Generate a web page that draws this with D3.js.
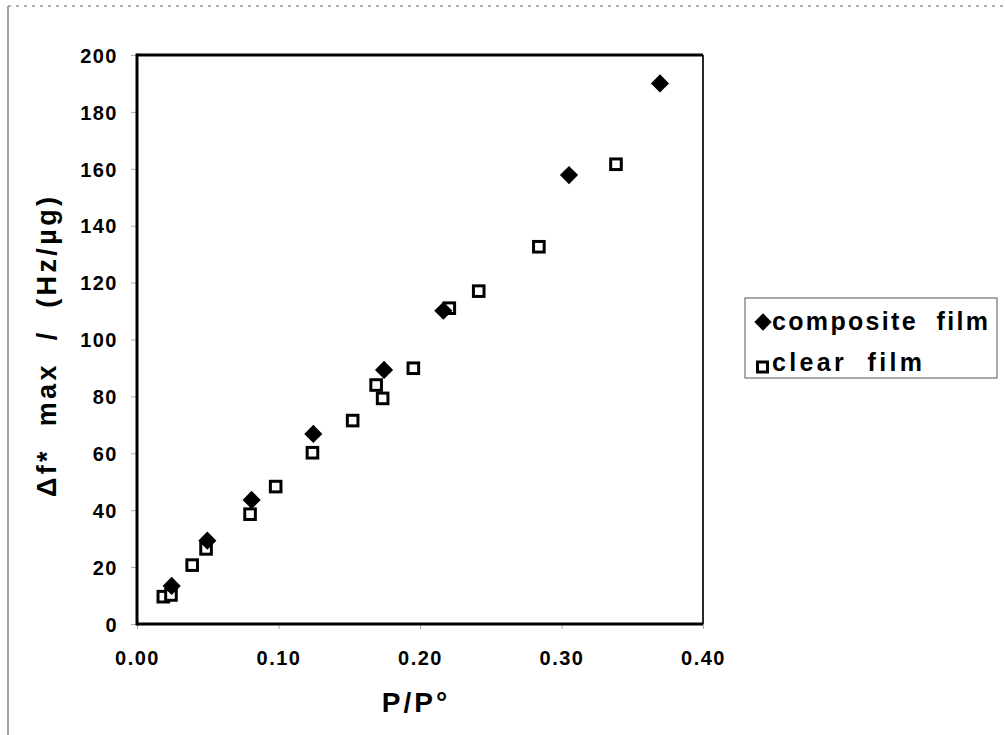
<!DOCTYPE html>
<html>
<head>
<meta charset="utf-8">
<script src="https://cdn.jsdelivr.net/npm/d3@7"></script>
<style>
  html, body { margin: 0; padding: 0; background: #fff; }
  svg { display: block; font-family: "Liberation Sans", Arial, Helvetica, sans-serif; }
</style>
</head>
<body>
<svg id="chart" width="1005" height="735"></svg>
<script>
// Relative pressure P/P° and normalised frequency shift for each film
const compositeX = [0.0245, 0.0497, 0.081, 0.1246, 0.1746, 0.2165, 0.3053, 0.3696];
const compositeY = [13.4, 29.3, 43.6, 66.8, 89.3, 110.1, 157.8, 190.0];

const clearX = [0.0186, 0.024, 0.039, 0.0488, 0.0799, 0.098, 0.124, 0.1524, 0.169, 0.1736, 0.1953, 0.2207, 0.2415, 0.284, 0.3385];
const clearY = [9.6, 10.2, 20.7, 26.4, 38.6, 48.3, 60.2, 71.5, 84.0, 79.3, 89.9, 111.0, 117.0, 132.6, 161.6];

const xTicks = [0, 0.1, 0.2, 0.3, 0.4];
const yTicks = [0, 20, 40, 60, 80, 100, 120, 140, 160, 180, 200];

const seriesNames = ["composite  film", "clear  film"];
const xTitle = "P/P°";
const yTitle = "Δf*  max  /  (Hz/µg)";

const svg = d3.select("#chart");

// Page frame
svg.append("line").attr("x1", 8).attr("y1", 6).attr("x2", 8).attr("y2", 735)
  .attr("stroke", "#444").attr("stroke-width", 1);
svg.append("line").attr("x1", 8).attr("y1", 6).attr("x2", 1005).attr("y2", 6)
  .attr("stroke", "#666").attr("stroke-width", 1).attr("stroke-dasharray", "3 5");

const plot = { left: 137, right: 703, top: 55, bottom: 624 };

const x = d3.scaleLinear().domain([0, 0.4]).range([plot.left, plot.right]);
const y = d3.scaleLinear().domain([0, 200]).range([plot.bottom, plot.top]);

// Axes
const yAxis = svg.append("g").attr("transform", `translate(${plot.left},0)`)
  .call(d3.axisLeft(y).tickValues(yTicks).tickSize(6).tickPadding(13).tickFormat(d3.format("d")));
const xAxis = svg.append("g").attr("transform", `translate(0,${plot.bottom})`)
  .call(d3.axisBottom(x).tickValues(xTicks).tickSize(5).tickPadding(22).tickFormat(d3.format(".2f")));

[xAxis, yAxis].forEach(g => {
  g.select(".domain").remove();
  g.selectAll(".tick line").attr("stroke", "#aaa").attr("stroke-width", 1);
  g.selectAll(".tick text")
    .attr("fill", "#000")
    .style("font-size", "20px")
    .style("font-weight", "bold")
    .style("letter-spacing", "1.5px");
});
yAxis.selectAll(".tick text").attr("dy", "0.36em");

// Plot frame
svg.append("line").attr("x1", plot.left).attr("x2", plot.right).attr("y1", plot.top).attr("y2", plot.top)
  .attr("stroke", "#000").attr("stroke-width", 3);
svg.append("line").attr("x1", plot.left).attr("x2", plot.right).attr("y1", plot.bottom).attr("y2", plot.bottom)
  .attr("stroke", "#000").attr("stroke-width", 3);
svg.append("line").attr("x1", plot.left).attr("x2", plot.left).attr("y1", plot.top - 1.5).attr("y2", plot.bottom + 1.5)
  .attr("stroke", "#000").attr("stroke-width", 3);
svg.append("line").attr("x1", plot.right).attr("x2", plot.right).attr("y1", plot.top).attr("y2", plot.bottom)
  .attr("stroke", "#111").attr("stroke-width", 1.8);

// Markers
const diamond = d3.symbol().type(d3.symbolSquare).size(165);
const clearData = clearX.map((v, i) => ({ x: v, y: clearY[i] }));
const compositeData = compositeX.map((v, i) => ({ x: v, y: compositeY[i] }));

svg.append("g").selectAll("rect").data(clearData).join("rect")
  .attr("x", d => x(d.x) - 5.3).attr("y", d => y(d.y) - 5.3)
  .attr("width", 10.6).attr("height", 10.6)
  .attr("fill", "#fff").attr("stroke", "#000").attr("stroke-width", 3);

svg.append("g").selectAll("path").data(compositeData).join("path")
  .attr("d", diamond)
  .attr("transform", d => `translate(${x(d.x)},${y(d.y)}) rotate(45)`)
  .attr("fill", "#000");

// Axis titles
svg.append("text").attr("x", 416).attr("y", 712).attr("text-anchor", "middle")
  .style("font-size", "28px").style("font-weight", "bold").style("letter-spacing", "3px")
  .text(xTitle);

svg.append("text").attr("transform", "translate(56,347) rotate(-90)").attr("text-anchor", "middle")
  .attr("textLength", 300).attr("lengthAdjust", "spacing")
  .style("font-size", "27px").style("font-weight", "bold").style("white-space", "pre")
  .text(yTitle);

// Legend
const legend = svg.append("g");
legend.append("rect").attr("x", 745).attr("y", 298).attr("width", 252).attr("height", 80)
  .attr("fill", "#fff").attr("stroke", "#555").attr("stroke-width", 1);
legend.append("path").attr("d", d3.symbol().type(d3.symbolSquare).size(150))
  .attr("transform", "translate(763,322) rotate(45)").attr("fill", "#000");
legend.append("rect").attr("x", 757.5).attr("y", 362).attr("width", 10).attr("height", 10)
  .attr("fill", "#fff").attr("stroke", "#000").attr("stroke-width", 3);
legend.append("text").attr("x", 772).attr("y", 330).attr("textLength", 216).attr("lengthAdjust", "spacing")
  .style("font-size", "25px").style("font-weight", "bold").style("white-space", "pre")
  .text(seriesNames[0]);
legend.append("text").attr("x", 772).attr("y", 371).attr("textLength", 150).attr("lengthAdjust", "spacing")
  .style("font-size", "25px").style("font-weight", "bold").style("white-space", "pre")
  .text(seriesNames[1]);
</script>
</body>
</html>
